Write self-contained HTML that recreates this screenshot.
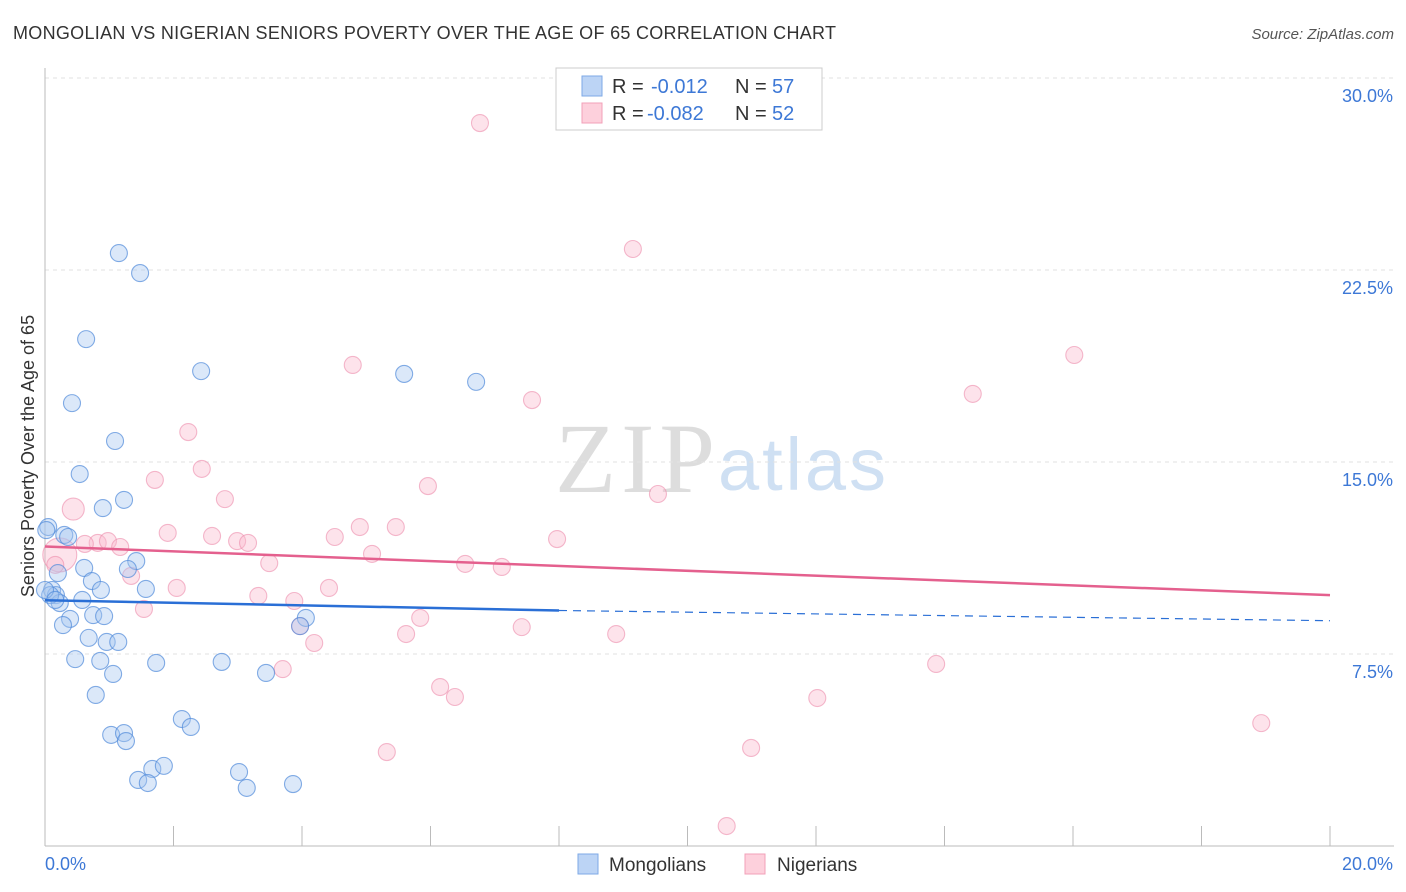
<!DOCTYPE html>
<html><head><meta charset="utf-8"><style>
body{margin:0;background:#fff;font-family:"Liberation Sans",sans-serif}
svg{display:block}
</style></head><body>
<svg id="c" width="1406" height="892">
<text x="13" y="39" font-size="18" fill="#333" textLength="823">MONGOLIAN VS NIGERIAN SENIORS POVERTY OVER THE AGE OF 65 CORRELATION CHART</text>
<text x="1394" y="39" font-size="15" fill="#555" font-style="italic" text-anchor="end">Source: ZipAtlas.com</text>
<text x="555" y="492" font-size="100" fill="#ddd" textLength="160" font-family="Liberation Serif,serif">ZIP</text>
<text x="718" y="490" font-size="74" fill="#cfe0f3" textLength="168">atlas</text>
<text transform="translate(34,456) rotate(-90)" font-size="18" fill="#333" text-anchor="middle">Seniors Poverty Over the Age of 65</text>
<g id="grid"></g><g id="axes"></g><g id="pts"></g><g id="lines"></g>
<g>
<rect x="556" y="68" width="266" height="62" fill="#fff" stroke="#ccc"/>
<rect x="582" y="76" width="20" height="20" fill="#bcd4f5" stroke="#7ea9e6"/>
<rect x="582" y="103" width="20" height="20" fill="#fdd0dc" stroke="#f2a0b8"/>
<text x="612" y="93" font-size="20" fill="#333">R =</text>
<text x="651" y="93" font-size="20" fill="#3d78d6">-0.012</text>
<text x="735" y="93" font-size="20" fill="#333">N =</text>
<text x="772" y="93" font-size="20" fill="#3d78d6">57</text>
<text x="612" y="120" font-size="20" fill="#333">R =</text>
<text x="647" y="120" font-size="20" fill="#3d78d6">-0.082</text>
<text x="735" y="120" font-size="20" fill="#333">N =</text>
<text x="772" y="120" font-size="20" fill="#3d78d6">52</text>
</g>
<g>
<rect x="578" y="854" width="20" height="20" fill="#bcd4f5" stroke="#7ea9e6"/>
<text x="609" y="871" font-size="19" fill="#333">Mongolians</text>
<rect x="745" y="854" width="20" height="20" fill="#fdd0dc" stroke="#f2a0b8"/>
<text x="777" y="871" font-size="19" fill="#333">Nigerians</text>
</g>
</svg>
<script>
const yTicks=[7.5,15,22.5,30];
const yTickLabels=["7.5%","15.0%","22.5%","30.0%"];
const xEndLabels=["0.0%","20.0%"];
const blueX=[1.15,1.48,0.64,2.43,5.59,6.71,0.42,1.09,0.54,1.23,0.90,0.05,0.30,0.36,1.42,0.61,1.29,0.20,0.73,1.57,0.87,0.11,0.17,0.58,0.23,4.06,0.39,0.75,0.92,0.28,3.97,0.68,0.96,1.14,0.47,0.86,1.73,2.75,1.06,3.44,0.79,2.13,2.27,1.03,1.23,1.26,1.67,1.85,3.02,1.45,1.60,3.14,3.86,0.08,0.02,0.00,0.16];
const blueY=[23.16,22.38,19.80,18.55,18.44,18.13,17.30,15.82,14.53,13.52,13.20,12.46,12.15,12.07,11.13,10.86,10.82,10.66,10.35,10.04,10.00,10.00,9.80,9.61,9.49,8.91,8.87,9.02,8.98,8.63,8.59,8.13,7.97,7.97,7.30,7.23,7.15,7.19,6.72,6.76,5.90,4.96,4.65,4.34,4.41,4.10,3.01,3.13,2.89,2.58,2.46,2.27,2.42,9.80,12.34,10.00,9.61];
const pinkX=[6.77,9.15,16.02,4.79,7.58,14.44,2.23,2.44,1.71,5.96,2.80,9.54,0.44,1.91,2.60,4.51,4.90,5.46,2.99,3.16,7.97,0.82,0.98,1.17,0.62,5.09,0.23,0.16,3.49,6.54,7.11,1.34,2.05,4.42,3.32,3.88,1.54,5.84,7.42,3.97,5.62,8.89,4.19,3.70,13.87,6.15,6.38,12.02,18.93,5.32,10.99,10.61];
const pinkY=[28.24,23.32,19.18,18.79,17.42,17.66,16.17,14.73,14.30,14.06,13.55,13.75,13.16,12.23,12.11,12.07,12.46,12.46,11.91,11.84,11.99,11.84,11.91,11.68,11.80,11.41,11.37,10.98,11.05,11.02,10.90,10.55,10.08,10.08,9.77,9.57,9.26,8.91,8.55,8.59,8.28,8.28,7.93,6.91,7.11,6.21,5.82,5.78,4.80,3.67,3.83,0.78];
const blueTrend=[9.6,9.2,8.8]; // at x=0, 8, 20
const pinkTrend=[11.7,9.8];   // at x=0, 20
const X=v=>45+v/20*1285, Y=v=>846-v*25.6;
const NS="http://www.w3.org/2000/svg";
function mk(t,p,a){const e=document.createElementNS(NS,t);for(const k in a)e.setAttribute(k,a[k]);p.appendChild(e);return e;}
const grid=document.getElementById('grid'),axes=document.getElementById('axes'),pts=document.getElementById('pts'),lines=document.getElementById('lines');
yTicks.forEach((t,i)=>{
 const l=mk('line',grid,{x1:45,x2:1394,y1:Y(t),y2:Y(t),stroke:'#e2e2e2','stroke-dasharray':'4,4'});
 
 
 const tx=mk('text',grid,{x:1393,y:Y(t)+24,'font-size':18,fill:'#3d78d6','text-anchor':'end'});
 tx.textContent=yTickLabels[i];
 
 
});
const ax=mk('line',axes,{x1:45,x2:1394,y1:846,y2:846,stroke:'#bbb'});


const ay=mk('line',axes,{x1:45,x2:45,y1:68,y2:846,stroke:'#bbb'});


for(let v=2;v<=20;v+=2){const t=mk('line',axes,{x1:X(v),x2:X(v),y1:826,y2:846,stroke:'#bbb'});
 
 }
[[0,'start',45],[20,'end',1393]].forEach((d,i)=>{const t=mk('text',axes,{x:d[2],y:870,'font-size':18,fill:'#3d78d6','text-anchor':d[1]});t.textContent=xEndLabels[i];
 
 });
pinkX.forEach((x,i)=>{const c=mk('circle',pts,{cx:X(x),cy:Y(pinkY[i]),r:(i==26?17:(i==12?11:8.5)),fill:'rgba(250,185,205,0.4)',stroke:'rgba(236,140,172,0.6)','stroke-width':1.1});
 
 });
blueX.forEach((x,i)=>{const c=mk('circle',pts,{cx:X(x),cy:Y(blueY[i]),r:8.5,fill:'rgba(165,198,240,0.4)',stroke:'rgba(80,138,218,0.7)','stroke-width':1.1});
 
 });
const b1=mk('line',lines,{x1:X(0),y1:Y(blueTrend[0]),x2:X(8),y2:Y(blueTrend[1]),stroke:'#2a6fd6','stroke-width':2.5});


const b2=mk('line',lines,{x1:X(8),y1:Y(blueTrend[1]),x2:X(20),y2:Y(blueTrend[2]),stroke:'#2a6fd6','stroke-width':1.2,'stroke-dasharray':'8,6'});


const p1=mk('line',lines,{x1:X(0),y1:Y(pinkTrend[0]),x2:X(20),y2:Y(pinkTrend[1]),stroke:'#e4608e','stroke-width':2.5});


</script>
</body></html>
